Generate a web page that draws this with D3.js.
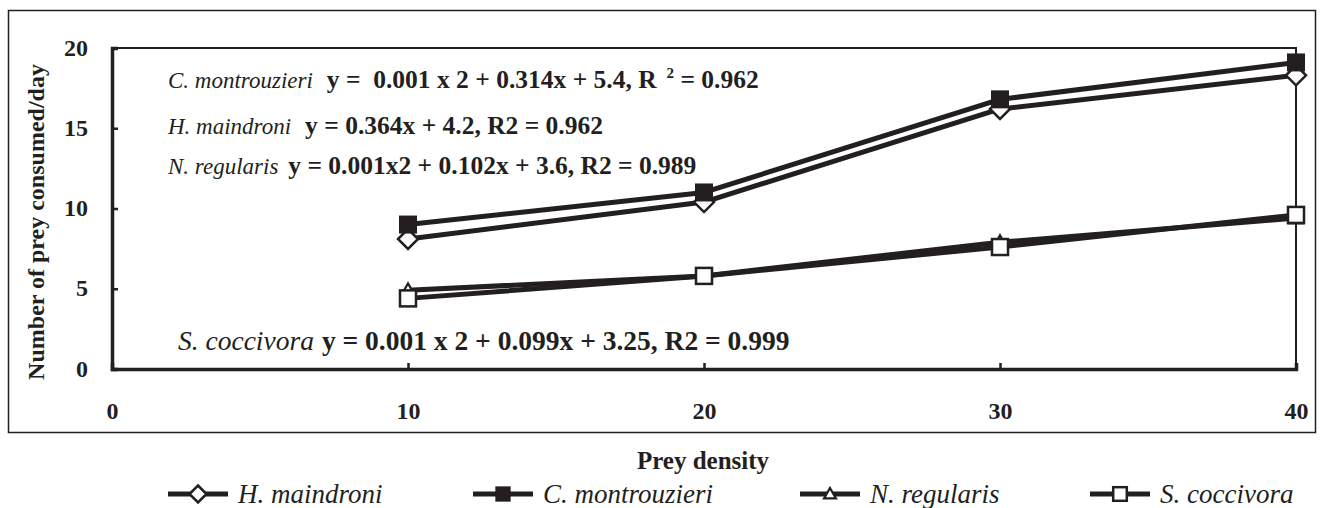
<!DOCTYPE html>
<html>
<head>
<meta charset="utf-8">
<script src="https://cdn.jsdelivr.net/npm/d3@7"></script>
<style>
  body { margin: 0; background: #fff; }
  text { font-family: "Liberation Serif", "Times New Roman", serif; fill: #231f20; }
</style>
</head>
<body>
<script>
// data
var densities = [10, 20, 30, 40];
var hMaindroni = [8.1, 10.4, 16.2, 18.3];
var cMontrouzieri = [9.0, 11.0, 16.8, 19.1];
var nRegularis = [4.9, 5.8, 7.9, 9.4];
var sCoccivora = [4.4, 5.8, 7.6, 9.6];
var xTicks = [0, 10, 20, 30, 40];
var yTicks = [0, 5, 10, 15, 20];

var ink = "#231f20";

var W = 1323, H = 508;
var margin = { top: 48, right: 27, bottom: 139, left: 112 };
var width = W - margin.left - margin.right;
var height = H - margin.top - margin.bottom;

var svg = d3.select("body").append("svg")
  .attr("width", W)
  .attr("height", H);

// outer frame
svg.append("rect")
  .attr("x", 8.5).attr("y", 10.5)
  .attr("width", 1307).attr("height", 422)
  .attr("fill", "none")
  .attr("stroke", ink)
  .attr("stroke-width", 1.5);

var g = svg.append("g")
  .attr("transform", "translate(" + margin.left + "," + margin.top + ")");

var x = d3.scaleLinear().domain([0, 40]).range([0, width]);
var y = d3.scaleLinear().domain([0, 20]).range([height, 0]);

// top and right border of plot area
g.append("path")
  .attr("d", "M0,0H" + width + "V" + height)
  .attr("fill", "none")
  .attr("stroke", ink)
  .attr("stroke-width", 2);

// axes
var yAxis = g.append("g")
  .call(d3.axisLeft(y).tickValues(yTicks).tickSize(-6).tickPadding(24));
var xAxis = g.append("g")
  .attr("transform", "translate(0," + height + ")")
  .call(d3.axisBottom(x).tickValues(xTicks).tickSize(-6).tickPadding(43));

[yAxis, xAxis].forEach(function(a) {
  a.select(".domain").attr("stroke", ink).attr("stroke-width", 3.5);
  a.selectAll(".tick line").attr("stroke", ink).attr("stroke-width", 2.5);
  a.selectAll(".tick text")
    .style("font-family", "Liberation Serif")
    .style("font-weight", "bold")
    .style("font-size", "24px")
    .attr("fill", ink);
});
yAxis.selectAll(".tick text").attr("dy", "0.3em");
xAxis.selectAll(".tick text").attr("dy", "0.3em");

// axis titles
svg.append("text")
  .attr("transform", "translate(44,222) rotate(-90)")
  .attr("text-anchor", "middle")
  .style("font-weight", "bold")
  .style("font-size", "24px")
  .text("Number of prey consumed/day");

svg.append("text")
  .attr("x", 703).attr("y", 469)
  .attr("text-anchor", "middle")
  .style("font-weight", "bold")
  .style("font-size", "25px")
  .text("Prey density");

// series
var series = [
  { name: "N. regularis", values: nRegularis, marker: "triangle" },
  { name: "S. coccivora", values: sCoccivora, marker: "openSquare" },
  { name: "H. maindroni", values: hMaindroni, marker: "diamond" },
  { name: "C. montrouzieri", values: cMontrouzieri, marker: "filledSquare" }
];

var line = d3.line()
  .x(function(d) { return x(d.x); })
  .y(function(d) { return y(d.y); });

function drawMarker(sel, type, cx, cy, k) {
  k = k || 1;
  if (type === "diamond") {
    var r = 10 * k;
    sel.append("path")
      .attr("d", "M" + cx + "," + (cy - r) + "L" + (cx + r) + "," + cy + "L" + cx + "," + (cy + r) + "L" + (cx - r) + "," + cy + "Z")
      .attr("fill", "#fff").attr("stroke", ink).attr("stroke-width", 2.5);
  } else if (type === "filledSquare") {
    var s = 9 * k;
    sel.append("rect")
      .attr("x", cx - s).attr("y", cy - s).attr("width", 2 * s).attr("height", 2 * s)
      .attr("fill", ink);
  } else if (type === "openSquare") {
    var q = 8 * k;
    sel.append("rect")
      .attr("x", cx - q).attr("y", cy - q).attr("width", 2 * q).attr("height", 2 * q)
      .attr("fill", "#fff").attr("stroke", ink).attr("stroke-width", 2.5);
  } else if (type === "triangle") {
    var t = 7 * k;
    sel.append("path")
      .attr("d", "M" + cx + "," + (cy - t) + "L" + (cx + t) + "," + (cy + t * 0.75) + "L" + (cx - t) + "," + (cy + t * 0.75) + "Z")
      .attr("fill", "#fff").attr("stroke", ink).attr("stroke-width", 2.2);
  }
}

series.forEach(function(s) {
  var pts = densities.map(function(d, i) { return { x: d, y: s.values[i] }; });
  g.append("path")
    .attr("d", line(pts))
    .attr("fill", "none")
    .attr("stroke", ink)
    .attr("stroke-width", 5)
    .attr("stroke-linejoin", "round");
  var mg = g.append("g");
  pts.forEach(function(p) {
    drawMarker(mg, s.marker, x(p.x), y(p.y));
  });
});

// regression equations (species in italic, fit in bold)
var equations = [
  { sp: "C. montrouzieri", eq: "y =  0.001 x 2 + 0.314x + 5.4, R", sup: "2", tail: " = 0.962",
    x: 168, y: 88, spSize: 23, eqSize: 25.5, gap: 14 },
  { sp: "H. maindroni", eq: "y = 0.364x + 4.2, R2 = 0.962",
    x: 168, y: 134, spSize: 23, eqSize: 25.5, gap: 14 },
  { sp: "N. regularis", eq: "y = 0.001x2 + 0.102x + 3.6, R2 = 0.989",
    x: 168, y: 174, spSize: 23, eqSize: 25.5, gap: 10 },
  { sp: "S. coccivora", eq: "y = 0.001 x 2 + 0.099x + 3.25, R2 = 0.999",
    x: 178, y: 350, spSize: 27.5, eqSize: 27.5, gap: 8 }
];

equations.forEach(function(e) {
  var t = svg.append("text")
    .attr("x", e.x).attr("y", e.y)
    .attr("xml:space", "preserve")
    .style("white-space", "pre");
  t.append("tspan").style("font-style", "italic").style("font-size", e.spSize + "px").text(e.sp);
  t.append("tspan").attr("dx", e.gap).style("font-weight", "bold").style("font-size", e.eqSize + "px").text(e.eq);
  if (e.sup) {
    t.append("tspan").style("font-weight", "bold").style("font-size", "15px")
      .attr("dx", 10).attr("dy", -10).text(e.sup);
    t.append("tspan").style("font-weight", "bold").style("font-size", e.eqSize + "px")
      .attr("dy", 10).text(e.tail);
  }
});

// legend
var legendItems = [
  { name: "H. maindroni", marker: "diamond" },
  { name: "C. montrouzieri", marker: "filledSquare" },
  { name: "N. regularis", marker: "triangle" },
  { name: "S. coccivora", marker: "openSquare" }
];
var legendX = [168, 473, 800, 1090];

var legend = svg.append("g").attr("class", "legend");
legendItems.forEach(function(d, i) {
  var lx = legendX[i];
  var ly = 494;
  var item = legend.append("g");
  item.append("line")
    .attr("x1", lx).attr("x2", lx + 60)
    .attr("y1", ly).attr("y2", ly)
    .attr("stroke", ink).attr("stroke-width", 5);
  drawMarker(item, d.marker, lx + 30, ly, 0.85);
  item.append("text")
    .attr("x", lx + 70).attr("y", ly + 9)
    .style("font-style", "italic")
    .style("font-size", "27px")
    .text(d.name);
});
</script>
</body>
</html>
